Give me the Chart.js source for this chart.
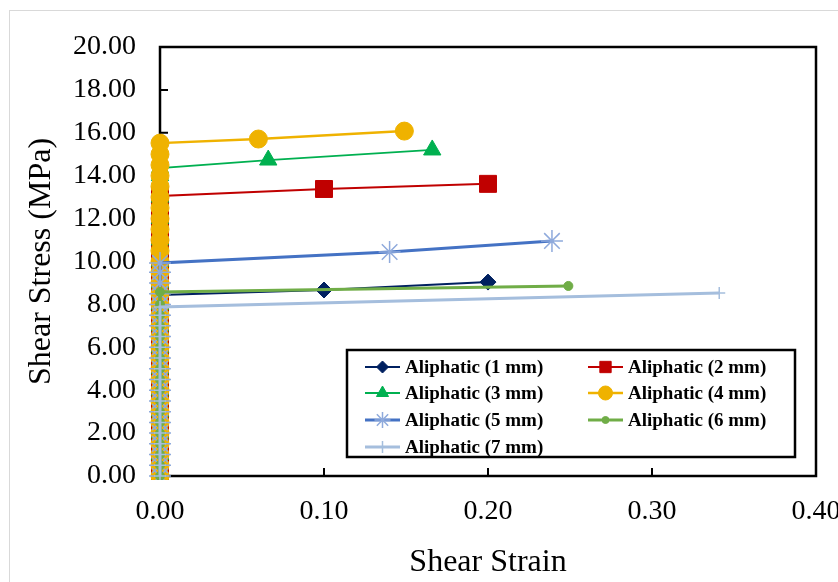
<!DOCTYPE html>
<html>
<head>
<meta charset="utf-8">
<script src="https://cdn.jsdelivr.net/npm/chart.js@4.4.0/dist/chart.umd.min.js"></script>
<style>
html, body { margin: 0; padding: 0; background: #fff; overflow: hidden; }
#wrap { position: relative; width: 838px; height: 582px; }
</style>
</head>
<body>
<div id="wrap"><canvas id="myChart" width="838" height="582"></canvas></div>
<script>
// series names
const seriesNames = [
    'Aliphatic (1 mm)', 'Aliphatic (2 mm)', 'Aliphatic (3 mm)', 'Aliphatic (4 mm)',
    'Aliphatic (5 mm)', 'Aliphatic (6 mm)', 'Aliphatic (7 mm)'
];

// stress readings taken while strain is still ~0 (MPa)
const rise1 = [0, 1, 2, 3, 4, 5, 6, 7, 8, 8.44];
const rise2 = [0, 1, 2, 3, 4, 5, 6, 7, 8, 9, 10, 11, 12, 13.05];
const rise3 = [0, 1, 2, 3, 4, 5, 6, 7, 8, 9, 10, 11, 12, 13, 14, 14.36];
const rise4 = [0, 0.5, 1, 1.5, 2, 2.5, 3, 3.5, 4, 4.5, 5, 5.5, 6, 6.5, 7, 7.5, 8, 8.5, 9, 9.5,
    10, 10.5, 11, 11.5, 12, 12.5, 13, 13.5, 14, 14.5, 15, 15.52];
const rise5 = [0, 0.5, 1, 1.5, 2, 2.5, 3, 3.5, 4, 4.5, 5, 5.5, 6, 6.5, 7, 7.5, 8, 8.5, 9, 9.5, 9.93];
const rise6 = [0, 0.5, 1, 1.5, 2, 2.5, 3, 3.5, 4, 4.5, 5, 5.5, 6, 6.5, 7, 7.5, 8, 8.58];
const rise7 = [0, 0.5, 1, 1.5, 2, 2.5, 3, 3.5, 4, 4.5, 5, 5.5, 6, 6.5, 7, 7.5, 7.88];

// points after yielding: shear strain / shear stress
const strain1 = [0.100, 0.200];  const stress1 = [8.67, 9.04];
const strain2 = [0.100, 0.200];  const stress2 = [13.38, 13.62];
const strain3 = [0.066, 0.166];  const stress3 = [14.73, 15.20];
const strain4 = [0.060, 0.149];  const stress4 = [15.71, 16.08];
const strain5 = [0.140, 0.239];  const stress5 = [10.44, 10.96];
const strain6 = [0.249];         const stress6 = [8.86];
const strain7 = [0.341];         const stress7 = [8.53];

const rises = [rise1, rise2, rise3, rise4, rise5, rise6, rise7];
const strains = [strain1, strain2, strain3, strain4, strain5, strain6, strain7];
const stresses = [stress1, stress2, stress3, stress4, stress5, stress6, stress7];

const serif = "'Liberation Serif', 'Times New Roman', serif";

// look of each series
const styles = [
    { line: '#002060', mark: '#002060', shape: 'rectRot',  r: 8,   lw: 2,   order: 5, lr: 6 },
    { line: '#C00000', mark: '#C00000', shape: 'rect',     r: 12,  lw: 2,   order: 7, lr: 8 },
    { line: '#00B050', mark: '#00B050', shape: 'triangle', r: 10,  lw: 1.8, order: 6, lr: 7 },
    { line: '#EFB200', mark: '#EFB200', shape: 'circle',   r: 9,   lw: 2.5, order: 4, lr: 7 },
    { line: '#4472C4', mark: '#8FAADC', shape: 'star',     r: 11,  lw: 3,   order: 3, lr: 8 },
    { line: '#70AD47', mark: '#70AD47', shape: 'circle',   r: 4.5, lw: 3,   order: 2, lr: 3.5 },
    { line: '#A5BEDD', mark: '#A5BEDD', shape: 'cross',    r: 6,   lw: 3,   order: 1, lr: 6 }
];

function buildPoints(i) {
    let pts = rises[i].map(v => ({ x: 0, y: v }));
    strains[i].forEach((s, k) => pts.push({ x: s, y: stresses[i][k] }));
    return pts;
}

let datasets = seriesNames.map((name, i) => ({
    label: name,
    data: buildPoints(i),
    borderColor: styles[i].line,
    backgroundColor: styles[i].mark,
    borderWidth: styles[i].lw,
    pointStyle: styles[i].shape,
    pointRadius: styles[i].r,
    pointBackgroundColor: styles[i].mark,
    pointBorderColor: styles[i].mark,
    pointBorderWidth: styles[i].shape == 'star' || styles[i].shape == 'cross' ? 1.5 : 1,
    tension: 0,
    order: styles[i].order,
    clip: { left: 12, top: 12, right: 12, bottom: 4 }
}));

// frame, inner tick marks, outer gray border and the boxed legend
const framePlugin = {
    id: 'frame',
    beforeDraw(chart) {
        const ctx = chart.ctx;
        ctx.save();
        ctx.fillStyle = '#fff';
        ctx.fillRect(0, 0, chart.width, chart.height);
        ctx.strokeStyle = '#d9d9d9';
        ctx.lineWidth = 1;
        ctx.strokeRect(9.5, 10.5, chart.width + 20, chart.height + 20);
        ctx.restore();
    },
    beforeDatasetsDraw(chart) {
        const ctx = chart.ctx, a = chart.chartArea;
        const xs = chart.scales.x, ys = chart.scales.y;
        ctx.save();
        ctx.strokeStyle = '#000';
        ctx.lineWidth = 2.5;
        ctx.strokeRect(a.left, a.top, a.right - a.left, a.bottom - a.top);
        ctx.lineWidth = 2;
        ctx.beginPath();
        ys.ticks.forEach(t => {
            let y = ys.getPixelForValue(t.value);
            ctx.moveTo(a.left, y);
            ctx.lineTo(a.left + 8, y);
        });
        xs.ticks.forEach(t => {
            let x = xs.getPixelForValue(t.value);
            ctx.moveTo(x, a.bottom);
            ctx.lineTo(x, a.bottom - 8);
        });
        ctx.stroke();
        ctx.restore();
    },
    afterDraw(chart) {
        const ctx = chart.ctx;
        ctx.save();
        ctx.fillStyle = '#fff';
        ctx.fillRect(347, 350, 448, 107);
        ctx.strokeStyle = '#000';
        ctx.lineWidth = 2.5;
        ctx.strokeRect(347, 350, 448, 107);
        const colX = [365, 588];
        const rowY = [367, 393, 420, 447];
        ctx.font = 'bold 19px ' + serif;
        ctx.textBaseline = 'middle';
        ctx.textAlign = 'left';
        seriesNames.forEach((name, i) => {
            let st = styles[i];
            let x0 = colX[i % 2], y = rowY[Math.floor(i / 2)];
            ctx.strokeStyle = st.line;
            ctx.lineWidth = st.lw;
            ctx.beginPath();
            ctx.moveTo(x0, y);
            ctx.lineTo(x0 + 35, y);
            ctx.stroke();
            ctx.fillStyle = st.mark;
            ctx.strokeStyle = st.mark;
            ctx.lineWidth = (st.shape == 'star' || st.shape == 'cross') ? 1.5 : 1;
            Chart.helpers.drawPoint(ctx, { pointStyle: st.shape, radius: st.lr, borderWidth: ctx.lineWidth, rotation: 0 }, x0 + 17.5, y);
            ctx.fillStyle = '#000';
            ctx.fillText(name, x0 + 40, y + 1);
        });
        ctx.restore();
    }
};

window.onload = function() {

let chart = document.getElementById('myChart').getContext('2d');

let myChart = new Chart(chart, {
    type: 'line',
    data: { datasets: datasets },
    plugins: [framePlugin],
    options: {
        responsive: false,
        animation: false,
        devicePixelRatio: 1,
        layout: { padding: { left: 10, top: 47, right: 22, bottom: 0 } },
        plugins: {
            legend: { display: false },
            tooltip: { enabled: false }
        },
        scales: {
            x: {
                type: 'linear',
                position: 'bottom',
                min: 0,
                max: 0.4,
                border: { display: false },
                grid: { display: false },
                ticks: {
                    stepSize: 0.1,
                    color: '#000',
                    padding: 11,
                    maxRotation: 0,
                    autoSkip: false,
                    font: { family: serif, size: 28 },
                    callback: v => Number(v).toFixed(2)
                },
                title: {
                    display: true,
                    text: 'Shear Strain',
                    color: '#000',
                    font: { family: serif, size: 32 },
                    padding: { top: 0, bottom: 0 }
                },
                afterFit: s => { s.height = 106; s.paddingLeft = 0; s.paddingRight = 0; }
            },
            y: {
                min: 0,
                max: 20,
                border: { display: false },
                grid: { display: false },
                ticks: {
                    stepSize: 2,
                    color: '#000',
                    padding: 16,
                    font: { family: serif, size: 28 },
                    callback: v => Number(v).toFixed(2)
                },
                title: {
                    display: true,
                    text: 'Shear Stress (MPa)',
                    color: '#000',
                    font: { family: serif, size: 32 },
                    padding: { top: 12, bottom: 0 }
                },
                afterFit: s => { s.width = 150; s.paddingTop = 0; s.paddingBottom = 0; }
            }
        }
    }
});
}
</script>
</body>
</html>
